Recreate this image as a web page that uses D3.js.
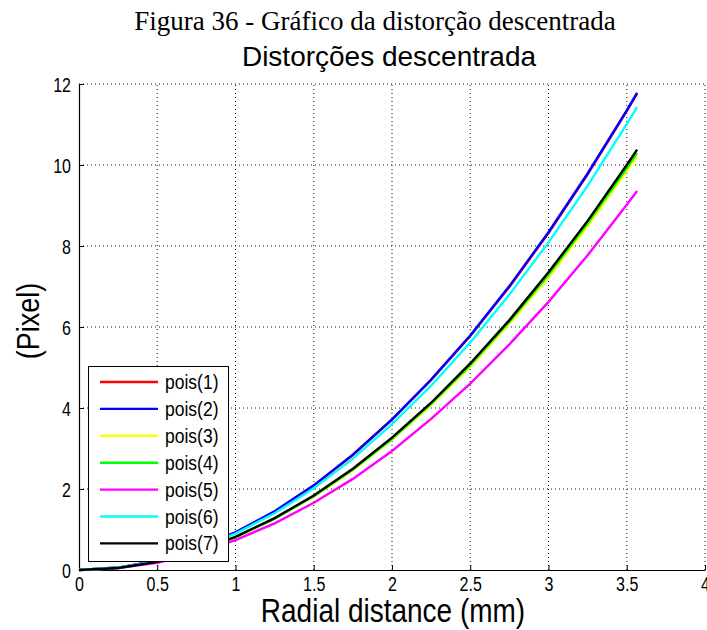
<!DOCTYPE html>
<html>
<head>
<meta charset="utf-8">
<script src="https://cdn.jsdelivr.net/npm/d3@7"></script>
<style>
  body { margin: 0; background: #fff; }
  text { font-family: 'Liberation Sans', Arial, sans-serif; }
</style>
</head>
<body>
<div class="graph"></div>
<script>
var radial = [0, 0.25, 0.5, 0.75, 1, 1.25, 1.5, 1.75, 2, 2.25, 2.5, 2.75, 3, 3.25, 3.5, 3.566];

var pois1 = [0, 0.06, 0.23, 0.52, 0.93, 1.44, 2.08, 2.84, 3.71, 4.69, 5.78, 6.99, 8.32, 9.77, 11.33, 11.76];
var pois2 = [0, 0.06, 0.23, 0.53, 0.93, 1.45, 2.09, 2.85, 3.72, 4.70, 5.79, 7.01, 8.34, 9.79, 11.35, 11.78];
var pois3 = [0, 0.05, 0.20, 0.45, 0.80, 1.26, 1.81, 2.46, 3.22, 4.07, 5.02, 6.08, 7.23, 8.49, 9.85, 10.22];
var pois4 = [0, 0.05, 0.20, 0.46, 0.81, 1.27, 1.82, 2.48, 3.24, 4.10, 5.06, 6.13, 7.29, 8.56, 9.92, 10.30];
var pois5 = [0, 0.05, 0.18, 0.41, 0.74, 1.15, 1.66, 2.25, 2.94, 3.73, 4.60, 5.57, 6.62, 7.77, 9.02, 9.36];
var pois6 = [0, 0.06, 0.22, 0.51, 0.90, 1.40, 2.02, 2.75, 3.60, 4.55, 5.62, 6.80, 8.09, 9.49, 11.01, 11.43];
var pois7 = [0, 0.05, 0.20, 0.46, 0.82, 1.28, 1.84, 2.50, 3.27, 4.13, 5.10, 6.17, 7.35, 8.62, 10.00, 10.38];

var seriesNames = ['pois(1)', 'pois(2)', 'pois(3)', 'pois(4)', 'pois(5)', 'pois(6)', 'pois(7)'];
var seriesValues = [pois1, pois2, pois3, pois4, pois5, pois6, pois7];
var colors = ['#ff0000', '#0000ff', '#ffff00', '#00ff00', '#ff00ff', '#00ffff', '#000000'];

var xTicks = [0, 0.5, 1, 1.5, 2, 2.5, 3, 3.5, 4];
var yTicks = [0, 2, 4, 6, 8, 10, 12];

var width = 707,
    height = 630,
    margin = {top: 84, right: 2, bottom: 60, left: 79};

var svg = d3.select('div.graph')
    .append('svg')
        .attr('width', width)
        .attr('height', height);

var x = d3.scaleLinear().domain([0, 4]).range([margin.left, width - margin.right]);
var y = d3.scaleLinear().domain([0, 12]).range([height - margin.bottom, margin.top]);

// the matlab fonts in the picture are a bit taller than wide
function stretched(sel, px, py, sy) {
    return sel.attr('x', 0).attr('y', 0).attr('dy', 0)
        .attr('transform', 'translate(' + px + ',' + py + ') scale(1,' + sy + ')');
}

// caption + title
svg.append('text')
    .attr('x', 375).attr('y', 30)
    .attr('text-anchor', 'middle')
    .style('font-family', "'Liberation Serif', 'Times New Roman', serif")
    .style('font-size', '27px')
    .text('Figura 36 - Gráfico da distorção descentrada');

svg.append('text')
    .attr('x', (x(0) + x(4)) / 2 - 3).attr('y', 66)
    .attr('text-anchor', 'middle')
    .style('font-size', '28px')
    .text('Distorções descentrada');

// dotted grid
svg.append('g')
    .selectAll('line')
    .data(xTicks.slice(1))
    .enter()
    .append('line')
        .attr('x1', (d) => x(d)).attr('x2', (d) => x(d))
        .attr('y1', y(0)).attr('y2', y(12))
        .attr('stroke', '#111')
        .attr('stroke-dasharray', '1,3');

svg.append('g')
    .selectAll('line')
    .data(yTicks.slice(1))
    .enter()
    .append('line')
        .attr('x1', x(0)).attr('x2', x(4))
        .attr('y1', (d) => y(d)).attr('y2', (d) => y(d))
        .attr('stroke', '#111')
        .attr('stroke-dasharray', '1,3');

// axes, ticks inside
var xAxis = svg.append('g')
    .attr('transform', 'translate(0,' + y(0) + ')')
    .call(d3.axisBottom(x).tickValues(xTicks).tickSizeInner(-5).tickSizeOuter(0)
        .tickFormat(d3.format('')));

var yAxis = svg.append('g')
    .attr('transform', 'translate(' + x(0) + ',0)')
    .call(d3.axisLeft(y).tickValues(yTicks).tickSizeInner(-5).tickSizeOuter(0));

[xAxis, yAxis].forEach(function(a) {
    a.select('.domain').attr('stroke', '#000').attr('stroke-width', 1.2);
    a.selectAll('.tick line').attr('stroke', '#000');
    a.selectAll('.tick text')
        .style('font-family', "'Liberation Sans', Arial, sans-serif")
        .style('font-size', '16px')
        .attr('fill', '#000');
});
stretched(xAxis.selectAll('.tick text'), 0, 21, 1.25);
stretched(yAxis.selectAll('.tick text'), -8, 7, 1.25);

// curves
var line = d3.line()
    .x((d, i) => x(radial[i]))
    .y((d) => y(d));

svg.append('g')
    .selectAll('path')
    .data(seriesValues)
    .enter()
    .append('path')
        .attr('fill', 'none')
        .attr('stroke', (d, i) => colors[i])
        .attr('stroke-width', 2.4)
        .attr('d', line);

// axis labels
stretched(svg.append('text'), (x(0) + x(4)) / 2 + 1, 622, 1.2)
    .attr('text-anchor', 'middle')
    .style('font-size', '28px')
    .text('Radial distance (mm)');

svg.append('text')
    .attr('transform', 'translate(39,321) rotate(-90) scale(1,1.15)')
    .attr('text-anchor', 'middle')
    .style('font-size', '27px')
    .text('(Pixel)');

// legend
var legend = svg.append('g');
legend.append('rect')
    .attr('x', 88.5).attr('y', 366.5)
    .attr('width', 140).attr('height', 195)
    .attr('fill', '#fff')
    .attr('stroke', '#000');

var item = legend.selectAll('g.item')
    .data(seriesNames)
    .enter()
    .append('g')
        .attr('class', 'item')
        .attr('transform', (d, i) => 'translate(0,' + (382 + i * 26.9) + ')');

item.append('line')
    .attr('x1', 100).attr('x2', 158)
    .attr('stroke', (d, i) => colors[i])
    .attr('stroke-width', 2.4);

stretched(item.append('text'), 165, 7, 1.15)
    .style('font-size', '17.5px')
    .text((d) => d);
</script>
</body>
</html>
